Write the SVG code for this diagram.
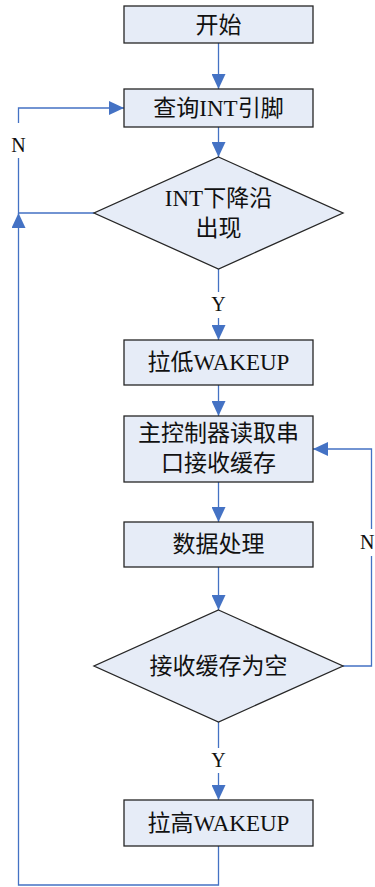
<svg xmlns="http://www.w3.org/2000/svg" width="375" height="887" viewBox="0 0 375 887">
<defs>
<marker id="ah" markerUnits="userSpaceOnUse" markerWidth="15" markerHeight="14" refX="15" refY="7" orient="auto">
<path d="M0,0 L15,7 L0,14 z" fill="#4472C4"/>
</marker>
<style>
.n{fill:#E6ECF7;stroke:#262626;stroke-width:1.3}
.t{font-family:"Liberation Serif","Noto Sans CJK SC",serif;font-size:23px;fill:#111;text-anchor:middle}
.l{font-family:"Liberation Serif",serif;font-size:20px;fill:#111;text-anchor:middle}
.c{fill:none;stroke:#4472C4;stroke-width:1.3}
</style>
</defs>
<rect width="375" height="887" fill="#fff"/>
<g id="connectors">
<path class="c" d="M218.5,43 V89" marker-end="url(#ah)"/>
<path class="c" d="M218.5,127 V157" marker-end="url(#ah)"/>
<path class="c" d="M218.5,269 V292"/>
<path class="c" d="M218.5,318 V340" marker-end="url(#ah)"/>
<path class="c" d="M218.5,385 V416" marker-end="url(#ah)"/>
<path class="c" d="M218.5,482 V522" marker-end="url(#ah)"/>
<path class="c" d="M218.5,567 V610" marker-end="url(#ah)"/>
<path class="c" d="M218.5,722 V748"/>
<path class="c" d="M218.5,773 V800" marker-end="url(#ah)"/>
<path class="c" d="M218.5,846 V885 H18.5 V213" marker-end="url(#ah)"/>
<path class="c" d="M94,213 H18.5 V158"/>
<path class="c" d="M18.5,123 V108 H124" marker-end="url(#ah)"/>
<path class="c" d="M343,666 H371.5 V556"/>
<path class="c" d="M371.5,529 V449 H313" marker-end="url(#ah)"/>
<text class="l" x="218.5" y="311">Y</text>
<text class="l" x="218.5" y="767">Y</text>
<text class="l" x="18.5" y="152">N</text>
<text class="l" x="374.5" y="549" style="text-anchor:end">N</text>
</g>
<g id="start"><rect class="n" x="124" y="6" width="189" height="37"/><text class="t" x="218.5" y="33">开始</text></g>
<g id="query"><rect class="n" x="124" y="89" width="189" height="38"/><text class="t" x="218.5" y="116">查询INT引脚</text></g>
<g id="falling"><polygon class="n" points="218.5,157 343,213 218.5,269 94,213"/><text class="t" x="218.5" y="206">INT下降沿</text><text class="t" x="218.5" y="236">出现</text></g>
<g id="wakelow"><rect class="n" x="124" y="340" width="189" height="45"/><text class="t" x="218.5" y="370">拉低WAKEUP</text></g>
<g id="read"><rect class="n" x="124" y="416" width="189" height="66"/><text class="t" x="218.5" y="441">主控制器读取串</text><text class="t" x="218.5" y="471">口接收缓存</text></g>
<g id="process"><rect class="n" x="124" y="522" width="189" height="45"/><text class="t" x="218.5" y="552">数据处理</text></g>
<g id="empty"><polygon class="n" points="218.5,610 343,666 218.5,722 94,666"/><text class="t" x="218.5" y="674">接收缓存为空</text></g>
<g id="wakehigh"><rect class="n" x="124" y="800" width="189" height="46"/><text class="t" x="218.5" y="831">拉高WAKEUP</text></g>
</svg>
